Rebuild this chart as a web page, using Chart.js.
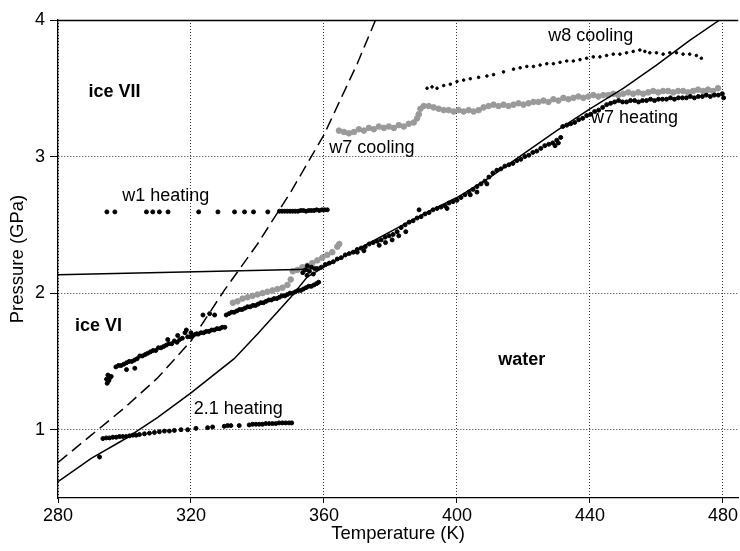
<!DOCTYPE html>
<html>
<head>
  <script src="https://cdnjs.cloudflare.com/ajax/libs/Chart.js/4.4.0/chart.umd.min.js"></script>
  <title>Water / ice VI / ice VII</title>
  <style>
    body { margin: 0; background: #fff; }
  </style>
</head>
<body>
  <canvas id="phaseChart" width="740" height="551"></canvas>
  <script>
    // axis ticks
    const xTicks = [280, 320, 360, 400, 440, 480];
    const yTicks = [1, 2, 3, 4];

    // phase boundaries
    const meltT = [280, 290, 300, 310, 320, 333, 340, 350, 355, 360, 370, 380, 390, 400, 410, 420, 430, 440, 450, 460, 470, 479];
    const meltP = [0.62, 0.79, 0.93, 1.09, 1.27, 1.52, 1.70, 1.97, 2.12, 2.19, 2.32, 2.45, 2.58, 2.70, 2.85, 3.02, 3.19, 3.35, 3.50, 3.67, 3.85, 4.0];
    const viViiT = [280, 290, 300, 310, 320, 330, 340, 350, 360, 370, 375.5];
    const viViiP = [0.76, 0.96, 1.16, 1.38, 1.65, 2.02, 2.36, 2.74, 3.16, 3.68, 4.0];
    const viWaterT = [280, 355.5];
    const viWaterP = [2.135, 2.175];

    // w1 heating
    const w1T = [294.7, 297.1, 306.6, 308.5, 310.5, 313.1, 322.3, 328.1, 333.1, 336.1, 338.8, 343.1,
      346.6, 347.4, 348.2, 349.0, 349.8, 350.6, 351.4, 352.2, 353.0, 353.8, 354.6, 355.4, 356.2, 357.0, 357.8, 358.6, 359.4, 360.2, 361.0];
    const w1P = [2.595, 2.595, 2.595, 2.595, 2.595, 2.595, 2.595, 2.595, 2.595, 2.595, 2.595, 2.595,
      2.60, 2.60, 2.60, 2.60, 2.60, 2.60, 2.60, 2.60, 2.605, 2.605, 2.60, 2.605, 2.605, 2.605, 2.61, 2.605, 2.61, 2.61, 2.61];

    // 2.1 heating
    const h21T = [292.5, 293.5, 294.5, 295.5, 296.5, 297.5, 298.5, 299.5, 300.5, 301.5, 302.5, 303.5, 304.5, 306, 307.5, 309, 310.5, 312, 313.5, 315, 317, 319, 321.5,
      325, 326.5, 330, 331, 332, 334.5, 337.5, 338.5, 339.5, 340.5, 341.5, 342.5, 343.5, 344.5, 345.5, 346.5, 347.5, 348.5, 349.5, 350.3];
    const h21P = [0.80, 0.935, 0.94, 0.94, 0.945, 0.945, 0.95, 0.95, 0.95, 0.955, 0.96, 0.96, 0.965, 0.97, 0.975, 0.98, 0.985, 0.99, 0.99, 0.995, 1.0, 1.0, 1.01,
      1.015, 1.02, 1.025, 1.03, 1.03, 1.03, 1.035, 1.04, 1.04, 1.04, 1.04, 1.045, 1.045, 1.045, 1.045, 1.05, 1.05, 1.05, 1.05, 1.05];

    // w7 heating
    const w7hT = [294.6, 295.0, 295.3, 294.8, 295.6, 296.0, 300.6, 303.1,
      297.4, 298.2, 299.0, 299.8, 300.6, 301.4, 302.2, 303.0, 303.8, 304.6, 305.4, 306.2, 307.0, 307.8, 308.6, 309.4, 310.2, 311.0, 311.8, 312.6,
      313.4, 314.2, 315.0, 315.8, 316.6, 317.4, 318.2, 319.0, 319.8, 320.6, 321.4, 322.2, 323.0, 323.8, 324.6, 325.4, 326.2, 327.0, 327.8, 328.6, 329.4, 330.2,
      313.0, 316.0, 318.6, 320.0, 323.6, 325.6, 327.1,
      330.6, 331.4, 332.2, 333.0, 333.8, 334.6, 335.4, 336.2, 337.0, 337.8, 338.6, 339.4, 340.2, 341.0, 341.8, 342.6, 343.4, 344.2, 345.0, 345.8,
      346.6, 347.4, 348.2, 349.0, 349.8, 350.6, 351.4, 352.2, 353.0, 353.8, 354.6, 355.4, 356.2, 357.0, 357.8, 358.4,
      353.6, 354.4, 355.0, 355.6, 356.2, 354.9, 356.8, 357.2,
      358.0, 359.2, 360.4, 361.6, 362.8, 364.0, 365.2, 366.4, 367.6, 368.8, 370.0, 371.2, 372.4, 373.6, 374.8, 376.0, 377.2, 378.4, 379.6, 380.8,
      382.0, 383.2, 384.4, 385.6, 386.8, 388.0, 389.2, 390.4, 391.6, 392.8, 394.0, 395.2, 396.4, 397.6, 398.8, 400.0, 401.2, 402.4, 403.6, 404.8,
      406.0, 407.2, 408.4, 409.6, 410.8, 412.0, 413.2, 414.4, 415.6, 416.8, 418.0, 419.2, 420.4, 421.6, 422.8, 424.0, 425.2, 426.4, 427.6, 428.8,
      430.0, 431.2, 431.8, 433.0, 434.2, 435.4, 436.6, 437.8, 439.0, 440.2, 441.4, 442.6, 443.8, 445.0, 446.2, 447.4,
      448.6, 449.8, 451.0, 452.2, 453.4, 454.6, 455.8, 457.0, 458.2, 459.4, 460.6, 461.8, 463.0, 464.2, 465.4, 466.6, 467.8, 469.0, 470.2, 471.4,
      472.6, 473.8, 475.0, 476.2, 477.4, 478.6, 479.8, 480.2,
      370.0, 372.0, 376.6, 378.5, 380.5, 382.5, 384.6, 388.6, 397.0, 404.0, 406.0, 409.0, 429.5, 430.5];
    const w7hP = [1.37, 1.40, 1.36, 1.34, 1.38, 1.39, 1.44, 1.45,
      1.46, 1.47, 1.47, 1.48, 1.49, 1.50, 1.50, 1.51, 1.52, 1.54, 1.54, 1.55, 1.56, 1.57, 1.58, 1.58, 1.60, 1.60, 1.61, 1.62,
      1.63, 1.63, 1.65, 1.64, 1.66, 1.67, 1.71, 1.68, 1.68, 1.69, 1.70, 1.70, 1.71, 1.71, 1.72, 1.72, 1.73, 1.73, 1.74, 1.74, 1.75, 1.75,
      1.66, 1.69, 1.73, 1.71, 1.84, 1.85, 1.84,
      1.84, 1.85, 1.86, 1.86, 1.87, 1.88, 1.88, 1.89, 1.90, 1.90, 1.91, 1.91, 1.92, 1.93, 1.93, 1.94, 1.95, 1.95, 1.96, 1.96,
      1.97, 1.98, 1.98, 1.99, 2.00, 2.00, 2.01, 2.02, 2.02, 2.03, 2.04, 2.05, 2.05, 2.06, 2.07, 2.08,
      2.15, 2.17, 2.20, 2.16, 2.19, 2.13, 2.14, 2.18,
      2.18, 2.19, 2.21, 2.22, 2.23, 2.25, 2.26, 2.28, 2.29, 2.30, 2.32, 2.33, 2.34, 2.36, 2.37, 2.38, 2.39, 2.41, 2.42, 2.43,
      2.45, 2.48, 2.50, 2.52, 2.53, 2.55, 2.56, 2.58, 2.59, 2.61, 2.62, 2.63, 2.64, 2.66, 2.67, 2.68, 2.70, 2.72, 2.74, 2.76,
      2.78, 2.80, 2.82, 2.85, 2.88, 2.90, 2.91, 2.93, 2.94, 2.95, 2.97, 2.98, 3.00, 3.01, 3.03, 3.04, 3.06, 3.08, 3.09, 3.10,
      3.12, 3.14, 3.22, 3.23, 3.24, 3.25, 3.27, 3.28, 3.30, 3.31, 3.33, 3.34, 3.36, 3.38, 3.39, 3.40,
      3.41, 3.40, 3.40, 3.41, 3.41, 3.40, 3.41, 3.41, 3.42, 3.41, 3.42, 3.42, 3.42, 3.43, 3.42, 3.43, 3.43, 3.43, 3.44, 3.43,
      3.44, 3.44, 3.45, 3.44, 3.45, 3.45, 3.46, 3.43,
      2.30, 2.31, 2.35, 2.37, 2.39, 2.42, 2.45, 2.61, 2.62, 2.72, 2.74, 2.80, 3.08, 3.10];

    // w7 cooling (grey)
    const w7cT = [332.6, 334.0, 335.5, 337.0, 338.5, 340.0, 341.5, 343.0, 344.5, 346.0, 347.5, 349.0, 350.0, 350.6, 352.0, 353.5, 355.0, 356.5, 358.0, 359.5, 361.0, 362.5, 364.0, 364.6,
      364.5, 366.0, 367.5, 369.0, 370.5, 372.0, 373.5, 375.0, 376.5, 378.0, 379.5, 381.0, 382.5, 384.0, 385.5, 387.0, 388.0, 388.5, 389.0, 390.0,
      391.5, 393.0, 394.5, 396.0, 397.5, 399.0, 400.5, 402.0, 403.5, 405.0, 406.5, 408.0, 409.5, 411.0, 412.5, 414.0, 415.5, 417.0, 418.5, 420.0,
      421.5, 423.0, 424.5, 426.0, 427.5, 429.0, 430.5, 432.0, 433.5, 435.0, 436.5, 438.0, 439.5, 441.0, 442.5, 444.0, 445.5, 447.0, 448.5, 450.0,
      451.5, 453.0, 454.5, 456.0, 457.5, 459.0, 460.5, 462.0, 463.5, 465.0, 466.5, 468.0, 469.5, 471.0, 472.5, 474.0, 475.5, 477.0, 478.5];
    const w7cP = [1.93, 1.94, 1.96, 1.97, 1.98, 1.99, 2.00, 2.01, 2.02, 2.03, 2.04, 2.06, 2.10, 2.16, 2.17, 2.19, 2.20, 2.22, 2.24, 2.26, 2.28, 2.30, 2.34, 2.36,
      3.19, 3.18, 3.17, 3.18, 3.20, 3.19, 3.21, 3.20, 3.22, 3.21, 3.22, 3.21, 3.23, 3.22, 3.24, 3.25, 3.28, 3.31, 3.35, 3.37,
      3.37, 3.36, 3.35, 3.34, 3.34, 3.33, 3.34, 3.33, 3.34, 3.33, 3.34, 3.36, 3.37, 3.38, 3.37, 3.38, 3.37, 3.38, 3.39, 3.38,
      3.39, 3.40, 3.40, 3.41, 3.40, 3.42, 3.41, 3.43, 3.42, 3.43, 3.44, 3.43, 3.44, 3.45, 3.44, 3.45, 3.45, 3.46, 3.45, 3.46,
      3.47, 3.46, 3.47, 3.46, 3.47, 3.48, 3.47, 3.48, 3.48, 3.47, 3.48, 3.48, 3.47, 3.48, 3.49, 3.48, 3.49, 3.48, 3.50];

    // w8 cooling
    const w8T = [391, 392.5, 394, 396, 398, 400, 402, 404, 406.5, 409, 411, 414, 417, 419, 421, 423, 425, 427, 429, 431, 433, 435, 437, 439,
      441, 443, 445, 447, 449, 451, 453, 455, 456.5, 458, 460, 462, 464, 466, 468, 470, 472, 473.5];
    const w8P = [3.50, 3.51, 3.50, 3.52, 3.53, 3.55, 3.56, 3.57, 3.58, 3.59, 3.60, 3.62, 3.64, 3.65, 3.66, 3.66, 3.67, 3.68, 3.68, 3.69, 3.70, 3.70, 3.71, 3.72,
      3.73, 3.73, 3.74, 3.75, 3.75, 3.76, 3.77, 3.78, 3.77, 3.76, 3.76, 3.75, 3.76, 3.76, 3.75, 3.75, 3.74, 3.72];

    // text labels placed in data units
    const labelText = ["ice VII", "w1 heating", "w7 cooling", "w8 cooling", "w7 heating", "ice VI", "water", "2.1 heating"];
    const labelT = [297.0, 312.4, 374.4, 440.2, 453.4, 292.2, 419.5, 334.2];
    const labelP = [3.47, 2.71, 3.06, 3.88, 3.28, 1.76, 1.51, 1.15];
    const labelBold = [true, false, false, false, false, true, true, false];

    function pts(T, P) {
      return T.map((t, i) => ({ x: t, y: P[i] }));
    }

    const fontFamily = "'Liberation Sans', Arial, sans-serif";

    const textPlugin = {
      id: "phaseText",
      afterDraw(chart) {
        const c = chart.ctx;
        const area = chart.chartArea;
        const xs = chart.scales.x, ys = chart.scales.y;
        c.save();
        // solid frame line along the top
        c.strokeStyle = "#000";
        c.lineWidth = 1.3;
        c.beginPath();
        c.moveTo(area.left, area.top + 0.5);
        c.lineTo(area.right, area.top + 0.5);
        c.stroke();
        c.fillStyle = "#000";
        c.textAlign = "center";
        c.textBaseline = "middle";
        labelText.forEach((txt, i) => {
          c.font = (labelBold[i] ? "bold " : "") + "18px " + fontFamily;
          c.fillText(txt, xs.getPixelForValue(labelT[i]), ys.getPixelForValue(labelP[i]));
        });
        c.restore();
      }
    };

    const ctx = document.getElementById("phaseChart").getContext("2d");
    const chart = new Chart(ctx, {
      type: "scatter",
      data: {
        datasets: [
          { label: "w7 heating", data: pts(w7hT, w7hP), backgroundColor: "#000", borderColor: "#000", pointRadius: 2, order: 1 },
          { label: "2.1 heating", data: pts(h21T, h21P), backgroundColor: "#000", borderColor: "#000", pointRadius: 2, order: 1 },
          { label: "w1 heating", data: pts(w1T, w1P), backgroundColor: "#000", borderColor: "#000", pointRadius: 2, order: 1 },
          { label: "w8 cooling", data: pts(w8T, w8P), backgroundColor: "#000", borderColor: "#000", pointRadius: 1.3, order: 1 },
          { label: "melting", data: pts(meltT, meltP), showLine: true, pointRadius: 0, borderColor: "#000", borderWidth: 1.5, order: 2 },
          { label: "VI-VII", data: pts(viViiT, viViiP), showLine: true, pointRadius: 0, borderColor: "#000", borderWidth: 1.5, borderDash: [12, 6], order: 2 },
          { label: "VI-water", data: pts(viWaterT, viWaterP), showLine: true, pointRadius: 0, borderColor: "#000", borderWidth: 1.5, order: 2 },
          { label: "w7 cooling", data: pts(w7cT, w7cP), backgroundColor: "#9a9a9a", borderColor: "#9a9a9a", pointRadius: 2.8, order: 3 }
        ]
      },
      options: {
        responsive: false,
        animation: false,
        devicePixelRatio: 1,
        layout: { autoPadding: false, padding: { top: 20, right: 0, left: 0, bottom: 0 } },
        plugins: {
          legend: { display: false },
          tooltip: { enabled: false }
        },
        scales: {
          x: {
            type: "linear",
            min: 280,
            max: 484.6,
            afterBuildTicks: (axis) => { axis.ticks = xTicks.map(v => ({ value: v })); },
            afterFit: (scale) => { scale.height = 53; },
            ticks: { color: "#000", font: { family: fontFamily, size: 18 }, padding: 2, maxRotation: 0 },
            grid: { color: "#333", lineWidth: 1, tickLength: 5, tickColor: "#000" },
            border: { color: "#000", width: 1.3, dash: [1, 2] },
            title: { display: true, text: "Temperature (K)", color: "#000", font: { family: fontFamily, size: 18.5 }, padding: { top: 0, bottom: 6 } }
          },
          y: {
            type: "linear",
            min: 0.5,
            max: 4,
            afterBuildTicks: (axis) => { axis.ticks = yTicks.map(v => ({ value: v })); },
            afterFit: (scale) => { scale.width = 58; },
            ticks: { color: "#000", font: { family: fontFamily, size: 18 }, padding: 5 },
            grid: { color: "#333", lineWidth: 1, tickLength: 8, tickColor: "#000" },
            border: { color: "#000", width: 1.3, dash: [1, 2] },
            title: { display: true, text: "Pressure (GPa)", color: "#000", font: { family: fontFamily, size: 18.5 }, padding: { top: 7, bottom: 0 } }
          }
        }
      },
      plugins: [textPlugin]
    });
  </script>
</body>
</html>
